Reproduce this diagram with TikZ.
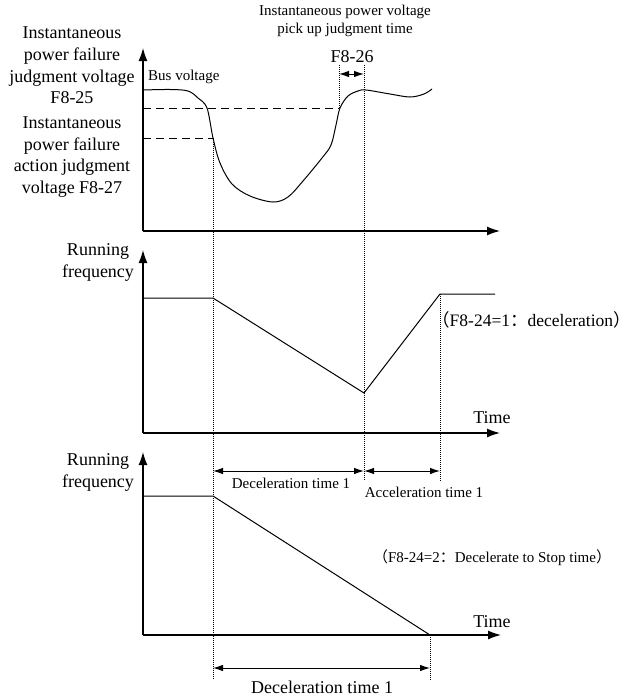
\documentclass[tikz,border=0pt]{standalone}
\usepackage{fontspec}
\setmainfont{Liberation Serif}
\newfontfamily\cjkfont{Noto Sans CJK SC}
\usepackage{tikz}
\usetikzlibrary{arrows.meta,positioning,calc}
\newcommand{\fwl}{{\cjkfont （}}
\newcommand{\fwr}{{\cjkfont ）}}
\newcommand{\fwc}{{\cjkfont ：}}

\tikzset{
  axis/.style={line width=1.3pt, -{Latex[length=13pt,width=9pt]}},
  curve/.style={line width=1pt},
  guide/.style={line width=0.9pt, dash pattern=on 8pt off 5pt},
  marker/.style={line width=0.6pt, dash pattern=on 1pt off 1pt},
  span/.style={line width=1pt, {Latex[length=10pt,width=6.5pt]}-{Latex[length=10pt,width=6.5pt]}},
  biglabel/.style={font=\fontsize{18}{21.7}\selectfont, align=center, inner sep=0pt},
  smalllabel/.style={font=\fontsize{15}{17.5}\selectfont, align=center, inner sep=0pt}
}

\begin{document}
\begin{tikzpicture}[x=1pt, y=-1pt]
\useasboundingbox (0,0) rectangle (634,696);

% TOP: bus voltage
\coordinate (O1) at (143,231);
\coordinate (Y1) at (143,48);
\coordinate (X1) at (500,231);
\draw[axis] (O1) -- (Y1);
\draw[axis] (O1) -- (X1);
% Thresholds (dashed)
\coordinate (H1) at (143,108);
\coordinate (H2) at (339,108);
\coordinate (L1) at (143,138);
\coordinate (L2) at (213,138);
\draw[guide] (H1) -- (H2);
\draw[guide] (L1) -- (L2);
% Bus voltage curve
\draw[curve] plot[smooth, tension=0.55] coordinates {
  (143,90) (170,89.5) (188,91) (198,98) (207,108) (213,138) (220,163)
  (232,184) (250,196) (273,202) (288,197) (303,181) (322,158) (331,145)
  (336,125) (340,108) (348,96) (358,91) (366,90) (390,94) (410,97)
  (424,94) (432,89)};
\node[smalllabel, anchor=west] (bus) at (148,77) {Bus voltage};
\node[biglabel] (judge) at (72,65.5) {Instantaneous\\power failure\\judgment voltage\\F8-25};
\node[biglabel] (action) at (72,157) {Instantaneous\\power failure\\action judgment\\voltage F8-27};
\node[smalllabel] (pickup) at (345,21) {Instantaneous power voltage\\pick up judgment time};
% Pick up time F8-26
\coordinate (P1) at (339,65);
\coordinate (P2) at (364,65);
\coordinate (PA) at (339,74);
\coordinate (PB) at (364,74);
\draw[marker] (P1) -- (H2);
\draw[span] (PA) -- (PB);
\node[biglabel] (f826) at (352,57) {F8-26};

% MIDDLE: running frequency, F8-24=1
\coordinate (O2) at (143,433);
\coordinate (Y2) at (143,250);
\coordinate (X2) at (500,433);
\draw[axis] (O2) -- (Y2);
\draw[axis] (O2) -- (X2);
\coordinate (M1) at (143,298);
\coordinate (M2) at (213,298);
\coordinate (M3) at (364,393);
\coordinate (M4) at (440,294);
\coordinate (M5) at (495,294);
\draw[curve] (M1) -- (M2) -- (M3) -- (M4) -- (M5);
\node[biglabel] (run2) at (98,262.5) {Running\\frequency};
\node[biglabel] (time2) at (492,418) {Time};
\node[biglabel, anchor=west, font=\fontsize{17.5}{20}\selectfont] (mode1) at (432,320) {\fwl F8-24=1\fwc deceleration\fwr};

% BOTTOM: running frequency, F8-24=2
\coordinate (O3) at (143,635);
\coordinate (Y3) at (143,452);
\coordinate (X3) at (501,635);
\draw[axis] (O3) -- (Y3);
\draw[axis] (O3) -- (X3);
\coordinate (B1) at (143,496);
\coordinate (B2) at (213,496);
\coordinate (B3) at (430,635);
\draw[curve] (B1) -- (B2) -- (B3);
\node[biglabel] (run3) at (98,472.5) {Running\\frequency};
\node[biglabel] (time3) at (492,622) {Time};
\node[smalllabel] (mode2) at (492,558) {\fwl F8-24=2\fwc Decelerate to Stop time\fwr};

% Vertical markers (dotted)
\coordinate (D1) at (213,680);
\coordinate (D2) at (364,481);
\coordinate (D3) at (440,481);
\coordinate (D4) at (430,680);
\draw[marker] (L2) -- (D1);
\draw[marker] (P2) -- (D2);
\draw[marker] (M4) -- (D3);
\draw[marker] (B3) -- (D4);

% Time spans
\coordinate (S1) at (213,471);
\coordinate (S2) at (364,471);
\coordinate (S3) at (440,471);
\coordinate (S4) at (213,668);
\coordinate (S5) at (430,668);
\draw[span] (S1) -- (S2);
\draw[span] (S2) -- (S3);
\draw[span] (S4) -- (S5);
\node[smalllabel] (dec1) at (291,483) {Deceleration time 1};
\node[smalllabel] (acc1) at (424,492) {Acceleration time 1};
\node[biglabel] (dec2) at (322,687) {Deceleration time 1};

\end{tikzpicture}
\end{document}
